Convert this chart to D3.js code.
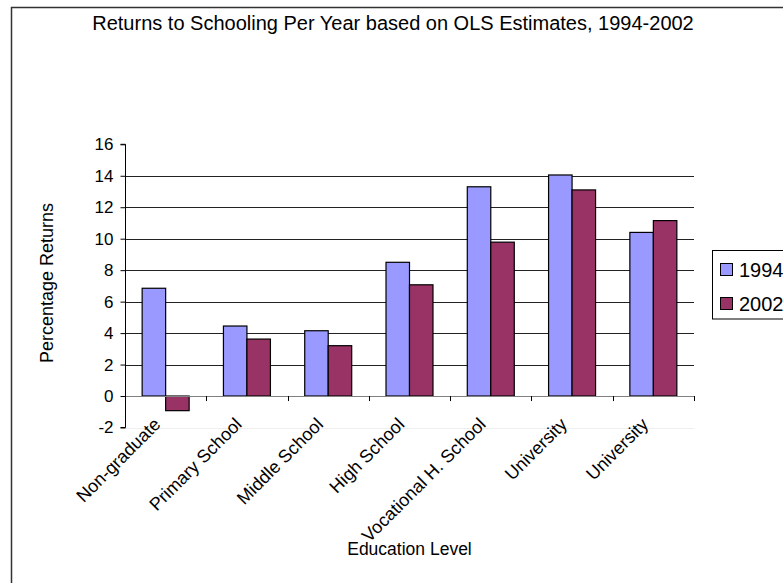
<!DOCTYPE html>
<html lang="en">
<head>
    <meta charset="UTF-8">
    <title>Returns to Schooling Per Year</title>
    <script src="https://d3js.org/d3.v7.min.js"></script>
    <style>
        body { margin: 0; background: #fff; }
        svg { display: block; font-family: "Liberation Sans", Arial, sans-serif; }
        text { fill: #000; }
    </style>
</head>
<body>
    <svg width="783" height="583"></svg>

    <script>
        // Data
        const categories = ["Non-graduate", "Primary School", "Middle School", "High School",
                            "Vocational H. School", "University", "University"];
        const seriesNames = ["1994", "2002"];
        const values1994 = [6.85, 4.45, 4.15, 8.5, 13.3, 14.05, 10.4];
        const values2002 = [-0.93, 3.62, 3.2, 7.07, 9.78, 13.1, 11.15];
        const yTicks = [-2, 0, 2, 4, 6, 8, 10, 12, 14, 16];
        const colors = ["#9999FF", "#993366"];

        const svg = d3.select("svg");
        const plotLeft = 125, plotRight = 694, plotTop = 144.3, plotBottom = 427.5;

        // outer chart frame (right and bottom fall off the picture)
        svg.append("path")
            .attr("d", "M11.5,590 V7.5 H790")
            .attr("fill", "none")
            .attr("stroke", "#333")
            .attr("stroke-width", 1.5);

        const idx = d3.range(categories.length);
        const x = d3.scaleBand().domain(idx).range([plotLeft, plotRight]).paddingInner(0).paddingOuter(0);
        const x1 = d3.scaleBand().domain([0, 1]).range([0, x.bandwidth()]).paddingOuter(0.73).paddingInner(0);
        const y = d3.scaleLinear().domain([-2, 16]).range([plotBottom, plotTop]);

        // gridlines
        svg.append("g")
            .selectAll("line")
            .data(yTicks.filter(t => t > 0 && t < 16))
            .join("line")
            .attr("x1", plotLeft).attr("x2", plotRight)
            .attr("y1", d => Math.round(y(d)) + 0.5)
            .attr("y2", d => Math.round(y(d)) + 0.5)
            .attr("stroke", "#222");

        // faint line at bottom of plot
        svg.append("line")
            .attr("x1", plotLeft).attr("x2", plotRight)
            .attr("y1", Math.round(y(-2)) + 0.5).attr("y2", Math.round(y(-2)) + 0.5)
            .attr("stroke", "#eee");

        // bars
        const series = [values1994, values2002];
        const groups = svg.append("g").selectAll("g")
            .data(series)
            .join("g")
            .attr("fill", (d, i) => colors[i]);

        groups.selectAll("rect")
            .data((d, si) => d.map((v, ci) => ({ v, ci, si })))
            .join("rect")
            .attr("x", d => x(d.ci) + x1(d.si))
            .attr("width", x1.bandwidth())
            .attr("y", d => y(Math.max(0, d.v)))
            .attr("height", d => Math.abs(y(d.v) - y(0)))
            .attr("stroke", "#000")
            .attr("stroke-width", 1.2);

        // zero axis with category ticks
        svg.append("line")
            .attr("x1", plotLeft).attr("x2", plotRight)
            .attr("y1", Math.round(y(0)) + 0.5).attr("y2", Math.round(y(0)) + 0.5)
            .attr("stroke", "#808080")
            .attr("stroke-width", 1.2);

        svg.append("g")
            .selectAll("line")
            .data(d3.range(1, categories.length + 1))
            .join("line")
            .attr("x1", d => Math.round(x(d - 1) + x.bandwidth()) + 0.5)
            .attr("x2", d => Math.round(x(d - 1) + x.bandwidth()) + 0.5)
            .attr("y1", y(0)).attr("y2", y(0) + 5)
            .attr("stroke", "#000");

        // y axis
        const yAxis = d3.axisLeft(y).tickValues(yTicks).tickSize(5).tickPadding(7);
        const gy = svg.append("g")
            .attr("transform", `translate(${plotLeft + 0.5},0)`)
            .call(yAxis);
        gy.select(".domain").attr("stroke", "#000").attr("d", `M-5,${y(16)}H0V${y(-2)}H-5`);
        gy.selectAll(".tick line").attr("stroke", "#000");
        gy.selectAll(".tick text")
            .attr("font-size", 17)
            .attr("font-family", "Liberation Sans, Arial, sans-serif")
            .attr("fill", "#000")
            .text(d => d < 0 ? "-" + Math.abs(d) : d);

        // category labels, rotated
        svg.append("g")
            .selectAll("text")
            .data(idx)
            .join("text")
            .attr("transform", d => `translate(${x(d) + x.bandwidth() / 2 - 4},${y(-2) - 2}) rotate(-45)`)
            .attr("text-anchor", "end")
            .attr("font-size", 18)
            .text(d => categories[d]);

        // titles
        svg.append("text")
            .attr("x", 393).attr("y", 30)
            .attr("text-anchor", "middle")
            .attr("font-size", 20)
            .text("Returns to Schooling Per Year based on OLS Estimates, 1994-2002");

        svg.append("text")
            .attr("x", (plotLeft + plotRight) / 2).attr("y", 555)
            .attr("text-anchor", "middle")
            .attr("font-size", 17.5)
            .text("Education Level");

        svg.append("text")
            .attr("transform", "translate(52.5,283) rotate(-90)")
            .attr("text-anchor", "middle")
            .attr("font-size", 18)
            .text("Percentage Returns");

        // legend
        const legend = svg.append("g");
        legend.append("rect")
            .attr("x", 712.5).attr("y", 250.5)
            .attr("width", 90).attr("height", 68.5)
            .attr("fill", "#fff").attr("stroke", "#000");
        const items = legend.selectAll("g.item")
            .data(seriesNames)
            .join("g")
            .attr("class", "item")
            .attr("transform", (d, i) => `translate(720.5,${263.5 + i * 34})`);
        items.append("rect")
            .attr("width", 12).attr("height", 12)
            .attr("fill", (d, i) => colors[i])
            .attr("stroke", "#000");
        items.append("text")
            .attr("x", 18.5).attr("y", 13)
            .attr("font-size", 20)
            .text(d => d);
    </script>
</body>
</html>
